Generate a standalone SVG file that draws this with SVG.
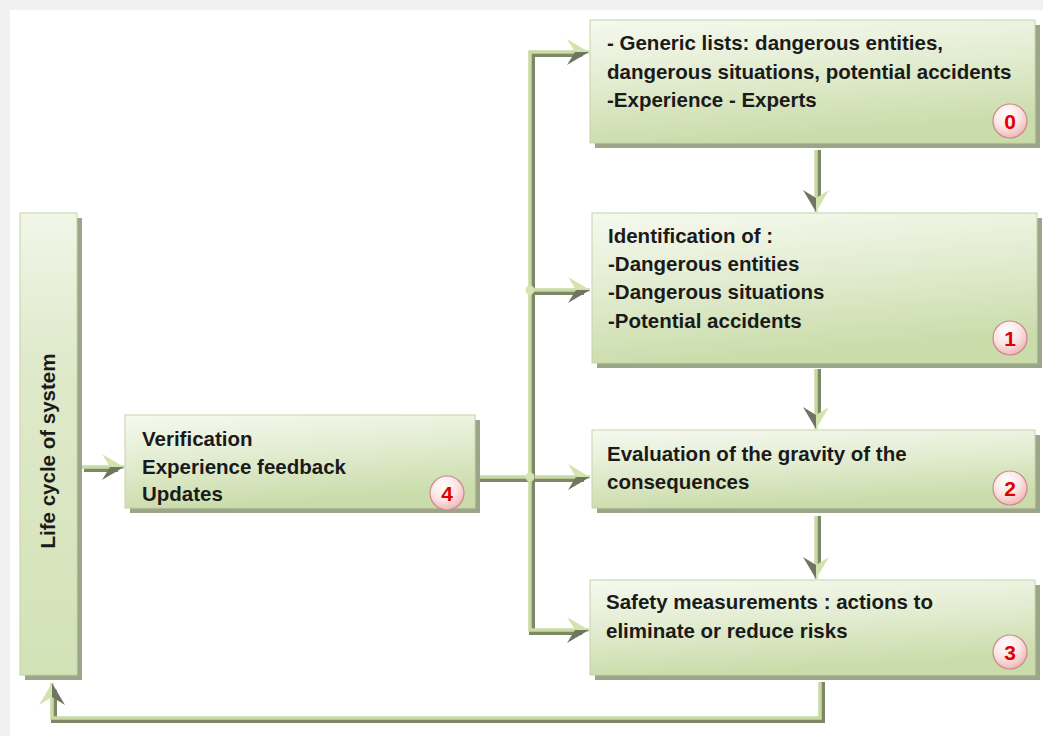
<svg xmlns="http://www.w3.org/2000/svg" width="1043" height="736" viewBox="0 0 1043 736">
  <defs>
    <linearGradient id="boxg" x1="0" y1="0" x2="0.25" y2="1">
      <stop offset="0" stop-color="#f6f9ef"/>
      <stop offset="0.5" stop-color="#e2ecd0"/>
      <stop offset="1" stop-color="#cadcaa"/>
    </linearGradient>
    <linearGradient id="lifeg" x1="0" y1="0" x2="0" y2="1">
      <stop offset="0" stop-color="#f2f6e8"/>
      <stop offset="0.3" stop-color="#e0eacc"/>
      <stop offset="1" stop-color="#d2e2b6"/>
    </linearGradient>
    <radialGradient id="badgeg" cx="0.4" cy="0.3" r="0.75">
      <stop offset="0" stop-color="#ffffff"/>
      <stop offset="0.55" stop-color="#fbe3e3"/>
      <stop offset="1" stop-color="#eeb0b0"/>
    </radialGradient>
    <marker id="arr" markerUnits="userSpaceOnUse" viewBox="-24 -15 26 30" refX="0" refY="0" markerWidth="26" markerHeight="30" orient="auto" overflow="visible">
      <path d="M0,0 L-22,-13 L-14,0 Z" fill="#d3e3ad"/>
      <path d="M0,0 L-14,0 L-22,13 Z" fill="#6f7560"/>
    </marker>
    <marker id="arrs" markerUnits="userSpaceOnUse" viewBox="-24 -15 26 30" refX="0" refY="0" markerWidth="26" markerHeight="30" orient="auto-start-reverse" overflow="visible">
      <path d="M0,0 L-22,-13 L-14,0 Z" fill="#d3e3ad"/>
      <path d="M0,0 L-14,0 L-22,13 Z" fill="#6f7560"/>
    </marker>
    <style>
      .shadow { fill: #9ba688; }
      .box { fill: url(#boxg); stroke: #c6d3a8; stroke-width: 1; }
      .life { fill: url(#lifeg); stroke: #c6d3a8; stroke-width: 1; }
      .t { font-family: "Liberation Sans", Arial, sans-serif; font-weight: bold; font-size: 20.5px; fill: #1a1a1a; }
      .badge { fill: url(#badgeg); stroke: #c98a8a; stroke-width: 1.2; }
      .num { font-family: "Liberation Sans", Arial, sans-serif; font-weight: bold; font-size: 21px; fill: #e00000; text-anchor: middle; }
      .dk { fill: none; stroke: #7e8768; stroke-width: 6; stroke-linejoin: miter; }
      .lt { fill: none; stroke: #c9daa3; stroke-width: 3.5; stroke-linejoin: miter; }
    </style>
  </defs>

  <rect x="0" y="0" width="1043" height="736" fill="#f1f1f1"/>
  <rect x="10" y="10" width="1033" height="726" fill="#ffffff"/>

  <g id="connectors">
    <path class="dk" d="M84,469 H118"/>
    <path class="lt" d="M82,467 H124" marker-end="url(#arr)"/>
    <path class="dk" d="M480,479 H584"/>
    <path class="lt" d="M478,477 H590" marker-end="url(#arr)"/>
    <path class="dk" d="M582,54 H532 V632 H582"/>
    <path class="lt" d="M589,52 H530 V630 H589" marker-start="url(#arrs)" marker-end="url(#arr)"/>
    <path class="dk" d="M532,292 H584"/>
    <path class="lt" d="M530,290 H590" marker-end="url(#arr)"/>
    <circle cx="530" cy="290" r="4.5" fill="#d6e4b4"/>
    <circle cx="530" cy="477" r="4.5" fill="#d6e4b4"/>
    <path class="dk" d="M818,150 V204"/>
    <path class="lt" d="M816,150 V212" marker-end="url(#arr)"/>
    <path class="dk" d="M818,369 V421"/>
    <path class="lt" d="M816,369 V429" marker-end="url(#arr)"/>
    <path class="dk" d="M818,516 V571"/>
    <path class="lt" d="M816,516 V579" marker-end="url(#arr)"/>
    <path class="dk" d="M822,682 V720 H54 V690"/>
    <path class="lt" d="M820,682 V718 H52 V683" marker-end="url(#arr)"/>
  </g>

  <g id="node-life">
    <rect class="shadow" x="25" y="218" width="57" height="462"/>
    <rect class="life" x="20" y="213" width="57" height="462"/>
    <text class="t" transform="translate(55,451) rotate(-90)" text-anchor="middle">Life cycle of system</text>
  </g>

  <g id="node-4">
    <rect class="shadow" x="130" y="420" width="350" height="93"/>
    <rect class="box" x="125" y="415" width="350" height="93"/>
    <text class="t" x="142" y="446">Verification</text>
    <text class="t" x="142" y="474">Experience feedback</text>
    <text class="t" x="142" y="501">Updates</text>
    <circle class="badge" cx="447" cy="493" r="17"/>
    <text class="num" x="447" y="501">4</text>
  </g>

  <g id="node-0">
    <rect class="shadow" x="595" y="25" width="445" height="123"/>
    <rect class="box" x="590" y="20" width="445" height="123"/>
    <text class="t" x="607" y="50">- Generic lists: dangerous entities,</text>
    <text class="t" x="607" y="79">dangerous situations, potential accidents</text>
    <text class="t" x="607" y="107">-Experience - Experts</text>
    <circle class="badge" cx="1010" cy="121" r="17"/>
    <text class="num" x="1010" y="129">0</text>
  </g>

  <g id="node-1">
    <rect class="shadow" x="597" y="218" width="445" height="150"/>
    <rect class="box" x="592" y="213" width="445" height="150"/>
    <text class="t" x="608" y="243">Identification of :</text>
    <text class="t" x="608" y="271">-Dangerous entities</text>
    <text class="t" x="608" y="299">-Dangerous situations</text>
    <text class="t" x="608" y="328">-Potential accidents</text>
    <circle class="badge" cx="1010" cy="338" r="17"/>
    <text class="num" x="1010" y="346">1</text>
  </g>

  <g id="node-2">
    <rect class="shadow" x="597" y="435" width="443" height="78"/>
    <rect class="box" x="592" y="430" width="443" height="78"/>
    <text class="t" x="607" y="461">Evaluation of the gravity of the</text>
    <text class="t" x="607" y="489">consequences</text>
    <circle class="badge" cx="1010" cy="488" r="17"/>
    <text class="num" x="1010" y="496">2</text>
  </g>

  <g id="node-3">
    <rect class="shadow" x="595" y="585" width="445" height="95"/>
    <rect class="box" x="590" y="580" width="445" height="95"/>
    <text class="t" x="606" y="609">Safety measurements : actions to</text>
    <text class="t" x="606" y="638">eliminate or reduce risks</text>
    <circle class="badge" cx="1010" cy="652" r="17"/>
    <text class="num" x="1010" y="660">3</text>
  </g>
</svg>
